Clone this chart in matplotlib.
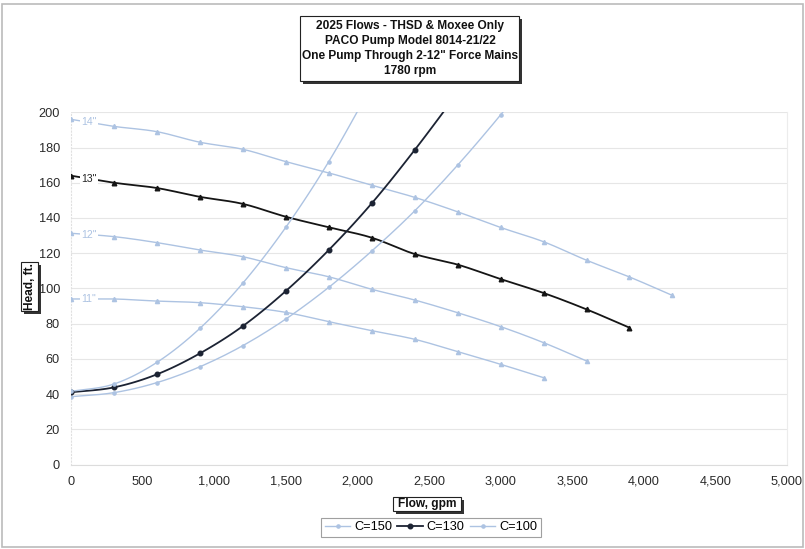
import numpy as np
import matplotlib
matplotlib.use("Agg")
import matplotlib.pyplot as plt
from matplotlib.patches import Rectangle
from matplotlib.lines import Line2D

plt.rcParams['font.family'] = ['Liberation Sans', 'DejaVu Sans']

# ---- data ----
flow_pump = [0, 300, 600, 900, 1200, 1500, 1800, 2100, 2400, 2700, 3000, 3300, 3600, 3900, 4200]
head_14 = [196, 192, 189, 183, 179, 172, 165.6, 158.6, 151.7, 143.5, 134.6, 126.5, 116, 106.5, 96]
head_13 = [164, 160, 157, 152, 148, 140.7, 134.7, 128.8, 119.5, 113.5, 105.3, 97.4, 88.1, 77.7]
head_12 = [131.3, 129.4, 126, 121.8, 118, 111.8, 106.6, 99.5, 93.4, 86.2, 78.3, 69.2, 58.8]
head_11 = [94, 94, 92.8, 91.9, 89.6, 86.4, 81.1, 76, 71.1, 64.1, 56.9, 49.3]

flow_sys = [0, 300, 600, 900, 1200, 1500, 1800, 2100, 2400, 2700, 3000, 3300]
sys_c150 = [38.5, 40.8, 46.5, 55.5, 67.5, 82.6, 100.6, 121.2, 144, 170, 198.5, 229]
sys_c130 = [41, 43.8, 51.2, 63.1, 78.6, 98.5, 121.8, 148.3, 178.6, 211]
sys_c100 = [41.5, 45.7, 58, 77.3, 103, 134.7, 172, 215]

pump_labels = ['14"', '13"', '12"', '11"']
title_lines = ["2025 Flows - THSD & Moxee Only", "PACO Pump Model 8014-21/22",
               'One Pump Through 2-12" Force Mains', "1780 rpm"]
x_ticks = [0, 500, 1000, 1500, 2000, 2500, 3000, 3500, 4000, 4500, 5000]
y_ticks = [0, 20, 40, 60, 80, 100, 120, 140, 160, 180, 200]

LIGHT = '#adc3e2'
DARK = '#1c2333'
BLACK = '#151515'


def smooth(x, y, n=12):
    x = np.asarray(x, float)
    y = np.asarray(y, float)
    if len(x) < 3:
        return x, y
    px = np.concatenate([[2 * x[0] - x[1]], x, [2 * x[-1] - x[-2]]])
    py = np.concatenate([[2 * y[0] - y[1]], y, [2 * y[-1] - y[-2]]])
    xs, ys = [], []
    t = np.linspace(0, 1, n, endpoint=False)
    for i in range(1, len(px) - 2):
        for arr, out in ((px, xs), (py, ys)):
            p0, p1, p2, p3 = arr[i - 1], arr[i], arr[i + 1], arr[i + 2]
            out.extend(0.5 * ((2 * p1) + (-p0 + p2) * t +
                              (2 * p0 - 5 * p1 + 4 * p2 - p3) * t ** 2 +
                              (-p0 + 3 * p1 - 3 * p2 + p3) * t ** 3))
    xs.append(x[-1]); ys.append(y[-1])
    return np.array(xs), np.array(ys)


W, H = 805, 549
fig = plt.figure(figsize=(W / 100, H / 100), dpi=100)


def fx(px):
    return px / W


def fy(py):
    return 1 - py / H


ax = fig.add_axes([fx(71), fy(464.5), fx(787) - fx(71), fy(112.3) - fy(464.5)])
ax.set_xlim(0, 5000)
ax.set_ylim(0, 200)
ax.set_xticks(x_ticks)
ax.set_xticklabels([f"{v:,}" for v in x_ticks], fontsize=9.2, color='#2a2a2a')
ax.set_yticks(y_ticks)
ax.set_yticklabels([str(v) for v in y_ticks], fontsize=9.2, color='#2a2a2a')
ax.tick_params(length=0, pad=8)
ax.grid(axis='y', color='#e6e6e6', linewidth=0.8)
ax.set_axisbelow(True)
ax.spines['top'].set_visible(False)
ax.spines['right'].set_color('#ececec')
ax.spines['bottom'].set_color('#dcdcdc')
ax.spines['left'].set_color('#e0e0e0')
ax.spines['left'].set_linestyle((0, (1, 2)))

# pump curves
pumps = [(head_14, LIGHT, 1.0, 3), (head_13, BLACK, 1.3, 3.3),
         (head_12, LIGHT, 1.0, 3), (head_11, LIGHT, 1.0, 3)]
for (hd, col, lw, ms), lab in zip(pumps, pump_labels):
    xs = flow_pump[:len(hd)]
    sx, sy = smooth(xs, hd)
    ax.plot(sx, sy, color=col, lw=lw, zorder=3)
    ax.plot(xs, hd, ls='none', marker='^', ms=ms, color=col, zorder=4)
    yl = np.interp(125, xs, hd)
    ax.text(125, yl, lab, fontsize=7.5, color=('#222222' if col == BLACK else LIGHT),
            ha='center', va='center', zorder=5,
            bbox=dict(boxstyle='square,pad=0.12', fc='white', ec='none'))

# system curves
handles = []
for ys, col, lw, lab, mk, ms in [(sys_c150, LIGHT, 1.0, 'C=150', 'o', 2.3),
                                   (sys_c130, DARK, 1.3, 'C=130', 'o', 3.3),
                                   (sys_c100, LIGHT, 1.0, 'C=100', 'o', 2.3)]:
    xs = flow_sys[:len(ys)]
    sx, sy = smooth(xs, ys)
    ax.plot(sx, sy, color=col, lw=lw, zorder=3)
    ax.plot(xs, ys, color=col, marker=mk, ms=ms, ls='none', zorder=4)
    handles.append(Line2D([], [], color=col, lw=lw, marker=mk, ms=ms, label=lab))

leg = fig.legend(handles=handles, loc='center', bbox_to_anchor=(fx(431), fy(527.5)),
                 ncol=3, fontsize=9.2, frameon=True, fancybox=False, edgecolor='#888888',
                 handlelength=2.0, handletextpad=0.3, columnspacing=0.4,
                 borderpad=0.3, borderaxespad=0)
leg.get_frame().set_linewidth(0.8)


def shadow_box(x0, y0, x1, y1, sh=3):
    fig.patches.append(Rectangle((fx(x0 + sh), fy(y1 + sh)), fx(x1) - fx(x0), fy(y0) - fy(y1),
                                 transform=fig.transFigure, fc='#333333', ec='none', zorder=1))
    fig.patches.append(Rectangle((fx(x0), fy(y1)), fx(x1) - fx(x0), fy(y0) - fy(y1),
                                 transform=fig.transFigure, fc='white', ec='#222222', lw=0.8, zorder=2))


# title
shadow_box(300, 16, 519, 81)
for i, line in enumerate(title_lines):
    fig.text(fx(410), fy(26 + 15 * i), line, ha='center', va='center', fontsize=8.6,
             fontweight='bold', color='#111111', zorder=3)

# y label
shadow_box(21, 262, 38, 311)
fig.text(fx(29.5), fy(286.5), 'Head, ft.', rotation=90, ha='center', va='center', fontsize=8.6,
         fontweight='bold', color='#111111', zorder=3)

# x label
shadow_box(393, 497, 461, 511)
fig.text(fx(427), fy(504), 'Flow, gpm', ha='center', va='center', fontsize=8.6,
         fontweight='bold', color='#111111', zorder=3)

# outer frame
fig.patches.append(Rectangle((fx(2), fy(547)), fx(803) - fx(2), fy(4) - fy(547),
                             transform=fig.transFigure, fc='none', ec='#bbbbbb', lw=1.2, zorder=0))

fig.savefig('out.png', dpi=100)
